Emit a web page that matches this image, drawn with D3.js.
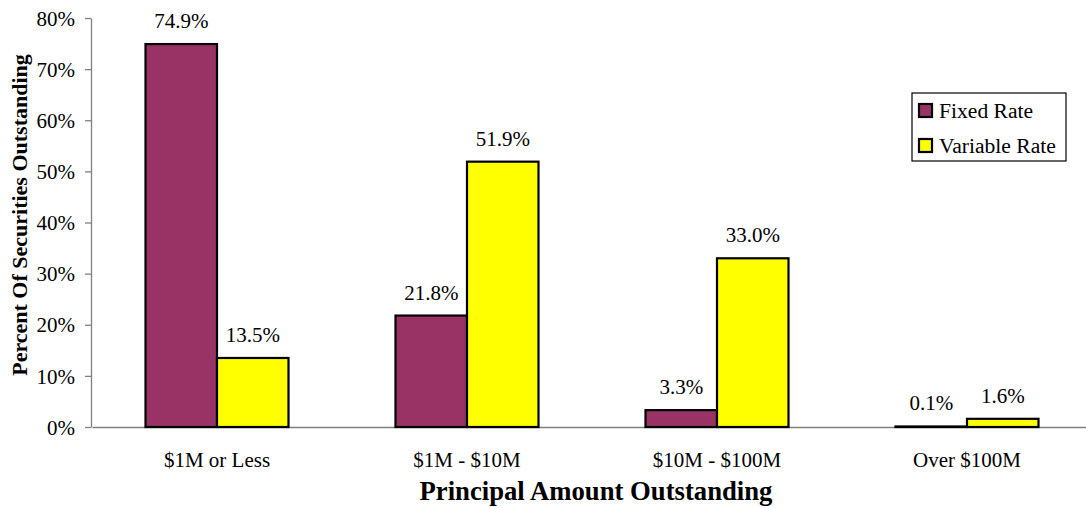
<!DOCTYPE html>
<html>
<head>
<meta charset="utf-8">
<script src="https://cdn.jsdelivr.net/npm/d3@7"></script>
<style>
  html, body { margin: 0; padding: 0; background: #fff; }
  svg { display: block; }
</style>
</head>
<body>
<svg id="chart" width="1086" height="508"></svg>
<script>
// Share of securities outstanding by principal amount
const categories = ["$1M or Less", "$1M - $10M", "$10M - $100M", "Over $100M"];
const seriesNames = ["Fixed Rate", "Variable Rate"];
const fixedRate = [74.9, 21.8, 3.3, 0.1];
const variableRate = [13.5, 51.9, 33.0, 1.6];
const yTicks = [0, 10, 20, 30, 40, 50, 60, 70, 80];
const colors = ["#993366", "#FFFF00"];

const FONT = '"Liberation Serif", "Times New Roman", serif';
const svg = d3.select("#chart");
const plotLeft = 92, plotRight = 1092, plotTop = 18, plotBottom = 427;

const x = d3.scaleBand().domain(categories).range([plotLeft, plotRight])
  .paddingInner(0.428).paddingOuter(0.214);
const xs = d3.scaleBand().domain(seriesNames).range([0, x.bandwidth()]);
const y = d3.scaleLinear().domain([0, 80]).range([plotBottom, plotTop]);

// y axis
const yAxis = svg.append("g").attr("transform", `translate(${plotLeft - 1},0)`)
  .call(d3.axisLeft(y).tickValues(yTicks).tickFormat(d => d + "%").tickSize(6).tickSizeOuter(0));
yAxis.select(".domain").attr("stroke", "#808080").attr("stroke-width", 1.3);
yAxis.selectAll(".tick line").attr("stroke", "#808080").attr("stroke-width", 1.3);
yAxis.selectAll(".tick text").style("font-family", FONT).style("font-size", "21px")
  .attr("fill", "#000").attr("x", -16).attr("dy", "0.34em");

// x axis baseline
const xAxis = svg.append("g").attr("transform", `translate(0,${plotBottom})`)
  .call(d3.axisBottom(x).tickSize(0).tickSizeOuter(0));
xAxis.select(".domain").attr("stroke", "#808080").attr("stroke-width", 1.3);
xAxis.selectAll(".tick text").style("font-family", FONT).style("font-size", "21px")
  .attr("fill", "#000").attr("dy", 0).attr("y", 40);

const data = categories.map((c, i) => ({
  cat: c,
  vals: [{ s: seriesNames[0], v: fixedRate[i], k: 0 }, { s: seriesNames[1], v: variableRate[i], k: 1 }]
}));

const groups = svg.append("g").selectAll("g").data(data).join("g")
  .attr("transform", d => `translate(${x(d.cat)},0)`);

groups.selectAll("rect").data(d => d.vals).join("rect")
  .attr("x", d => xs(d.s))
  .attr("width", xs.bandwidth())
  .attr("y", d => y(d.v))
  .attr("height", d => y(0) - y(d.v))
  .attr("fill", d => colors[d.k])
  .attr("stroke", "#000")
  .attr("stroke-width", 2.2);

groups.selectAll("text").data(d => d.vals).join("text")
  .attr("x", d => xs(d.s) + xs.bandwidth() / 2)
  .attr("y", d => y(d.v) - 16)
  .attr("text-anchor", "middle")
  .style("font-family", FONT).style("font-size", "21px")
  .text(d => d.v.toFixed(1) + "%");

// axis titles
svg.append("text").attr("x", 596).attr("y", 500).attr("text-anchor", "middle")
  .style("font-family", FONT).style("font-size", "26.7px").style("font-weight", "bold")
  .text("Principal Amount Outstanding");
svg.append("text").attr("transform", "translate(27,215) rotate(-90)").attr("text-anchor", "middle")
  .style("font-family", FONT).style("font-size", "22px").style("font-weight", "bold")
  .text("Percent Of Securities Outstanding");

// legend
const lg = svg.append("g").attr("transform", "translate(912,93)");
lg.append("rect").attr("width", 154).attr("height", 68).attr("fill", "#fff")
  .attr("stroke", "#000").attr("stroke-width", 1.2);
const items = lg.selectAll("g").data(seriesNames).join("g")
  .attr("transform", (d, i) => `translate(7,${18 + i * 35})`);
items.append("rect").attr("x", 0).attr("y", -7).attr("width", 13).attr("height", 13)
  .attr("fill", (d, i) => colors[i]).attr("stroke", "#000").attr("stroke-width", 2.2);
items.append("text").attr("x", 20).attr("y", 7)
  .style("font-family", FONT).style("font-size", "21.6px").text(d => d);
</script>
</body>
</html>
